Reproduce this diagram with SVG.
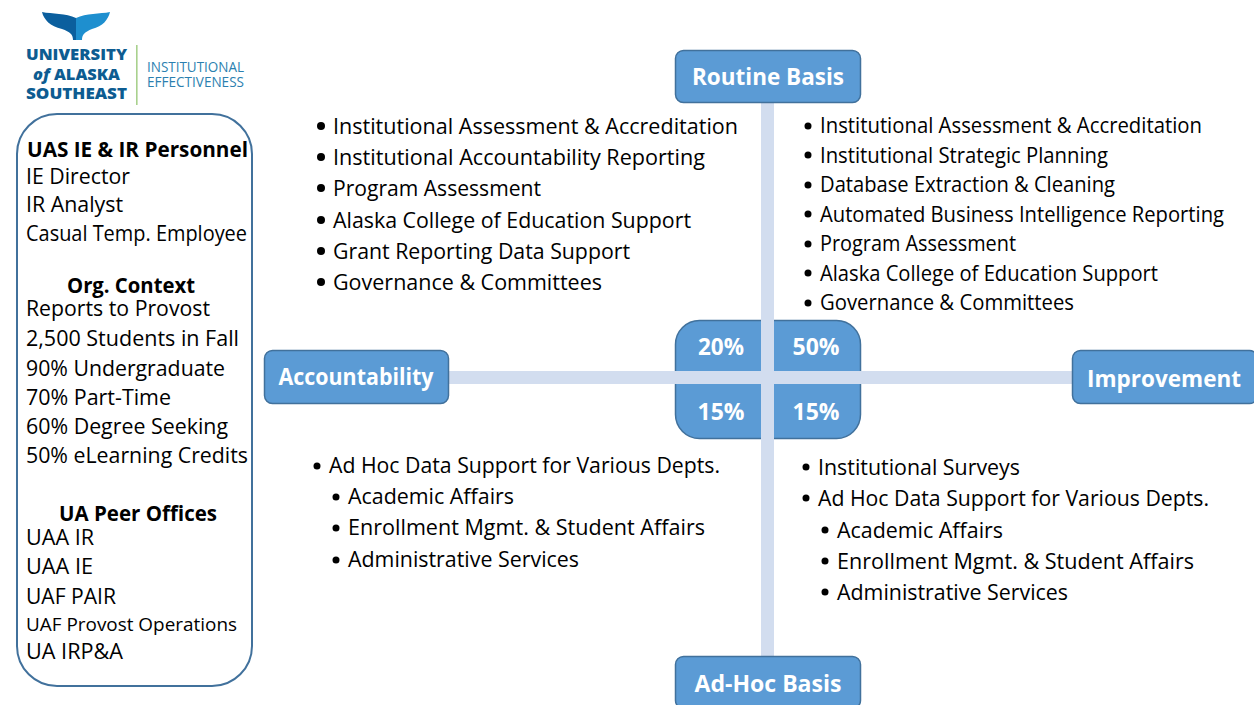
<svg xmlns="http://www.w3.org/2000/svg" width="1254" height="705" viewBox="0 0 1254 705">
<style>
text{font-family:"Open Sans","Noto Sans",sans-serif;fill:#000}
.b{fill:#5b9bd5;stroke:#41719c;stroke-width:1.5}
.bar{fill:#d2ddef}
.h{font-weight:700;fill:#fff;font-size:23px;text-anchor:middle}
.p{font-size:24px}
.l{font-size:22px}
.m{font-size:21px}
.t{font-weight:700;font-size:22px}
.logo{font-weight:800;fill:#0d5c91;font-size:16px}
.ie{fill:#2b7fb0;font-size:14px}
</style>
<g id="logo">
<path d="M42 12C52 14 66 13 76 18L76 40L73 40C73 34 70 32 62 29C50 26 44 20 42 12Z" fill="#0b5f9e"/>
<path d="M110 12C100 14 86 13 76 18L76 40L82 40C82 34 85 32 92 29C103 26 108 20 110 12Z" fill="#1e8fcf"/>
<rect x="136" y="45" width="1.6" height="60" fill="#a9d18e"/>
<text class="logo" x="26" y="60" textLength="101" lengthAdjust="spacingAndGlyphs">UNIVERSITY</text>
<text class="logo" x="33" y="80" textLength="87" lengthAdjust="spacingAndGlyphs"><tspan font-style="italic">of</tspan> ALASKA</text>
<text class="logo" x="26" y="99" textLength="101" lengthAdjust="spacingAndGlyphs">SOUTHEAST</text>
<text class="ie" x="147" y="72" textLength="97" lengthAdjust="spacingAndGlyphs">INSTITUTIONAL</text>
<text class="ie" x="147" y="87" textLength="97" lengthAdjust="spacingAndGlyphs">EFFECTIVENESS</text>
</g>
<g id="sidebar">
<rect x="17" y="114" width="235" height="572" rx="40" ry="40" fill="#fff" stroke="#41719c" stroke-width="2"/>
<text class="t" x="27" y="157" textLength="221" lengthAdjust="spacingAndGlyphs">UAS IE &amp; IR Personnel</text>
<text class="l" x="26" y="184" textLength="104" lengthAdjust="spacingAndGlyphs">IE Director</text>
<text class="l" x="26" y="212" textLength="97" lengthAdjust="spacingAndGlyphs">IR Analyst</text>
<text class="m" x="26" y="241" textLength="221" lengthAdjust="spacingAndGlyphs">Casual Temp. Employee</text>
<text class="t" x="67" y="293" textLength="128" lengthAdjust="spacingAndGlyphs">Org. Context</text>
<text class="l" x="26" y="316" textLength="184" lengthAdjust="spacingAndGlyphs">Reports to Provost</text>
<text class="l" x="26" y="346" textLength="213" lengthAdjust="spacingAndGlyphs">2,500 Students in Fall</text>
<text class="l" x="26" y="376" textLength="199" lengthAdjust="spacingAndGlyphs">90% Undergraduate</text>
<text class="l" x="26" y="405" textLength="145" lengthAdjust="spacingAndGlyphs">70% Part-Time</text>
<text class="l" x="26" y="434" textLength="202" lengthAdjust="spacingAndGlyphs">60% Degree Seeking</text>
<text class="l" x="26" y="463" textLength="222" lengthAdjust="spacingAndGlyphs">50% eLearning Credits</text>
<text class="t" x="59" y="521" textLength="158" lengthAdjust="spacingAndGlyphs">UA Peer Offices</text>
<text class="l" x="26" y="545" textLength="68" lengthAdjust="spacingAndGlyphs">UAA IR</text>
<text class="l" x="26" y="574" textLength="67" lengthAdjust="spacingAndGlyphs">UAA IE</text>
<text class="l" x="26" y="604" textLength="90" lengthAdjust="spacingAndGlyphs">UAF PAIR</text>
<text x="26" y="631" font-size="19" textLength="211" lengthAdjust="spacingAndGlyphs">UAF Provost Operations</text>
<text class="l" x="26" y="659" textLength="97" lengthAdjust="spacingAndGlyphs">UA IRP&amp;A</text>
</g>
<g id="center">
<rect class="b" x="675.500" y="320.500" width="185" height="118" rx="24" ry="24"/>
<text class="h p" x="721" y="355" textLength="46" lengthAdjust="spacingAndGlyphs">20%</text>
<text class="h p" x="816" y="355" textLength="47" lengthAdjust="spacingAndGlyphs">50%</text>
<text class="h p" x="721" y="420" textLength="47" lengthAdjust="spacingAndGlyphs">15%</text>
<text class="h p" x="816" y="420" textLength="47" lengthAdjust="spacingAndGlyphs">15%</text>
</g>
<g id="connectors">
<rect class="bar" x="761" y="100" width="13" height="560"/>
<rect class="bar" x="446" y="371" width="628" height="13"/>
</g>
<g id="routine"><rect class="b" x="675.500" y="50.500" width="185" height="52" rx="8" ry="8"/><text class="h" x="768" y="85" textLength="152" lengthAdjust="spacingAndGlyphs">Routine Basis</text></g>
<g id="adhoc"><rect class="b" x="675.500" y="656.500" width="185" height="52" rx="8" ry="8"/><text class="h" x="768" y="692" textLength="147" lengthAdjust="spacingAndGlyphs">Ad-Hoc Basis</text></g>
<g id="accountability"><rect class="b" x="264.500" y="350.500" width="184" height="53" rx="8" ry="8"/><text class="h" x="356" y="385" textLength="155" lengthAdjust="spacingAndGlyphs">Accountability</text></g>
<g id="improvement"><rect class="b" x="1072.500" y="350.500" width="185" height="53" rx="8" ry="8"/><text class="h" x="1164" y="387" textLength="154" lengthAdjust="spacingAndGlyphs">Improvement</text></g>
<g id="q1">
<circle cx="321" cy="126" r="4"/><text class="l" x="333" y="134" textLength="405" lengthAdjust="spacingAndGlyphs">Institutional Assessment &amp; Accreditation</text>
<circle cx="321" cy="157" r="4"/><text class="l" x="333" y="165" textLength="372" lengthAdjust="spacingAndGlyphs">Institutional Accountability Reporting</text>
<circle cx="321" cy="188" r="4"/><text class="l" x="333" y="196" textLength="208" lengthAdjust="spacingAndGlyphs">Program Assessment</text>
<circle cx="321" cy="220" r="4"/><text class="l" x="333" y="228" textLength="358" lengthAdjust="spacingAndGlyphs">Alaska College of Education Support</text>
<circle cx="321" cy="251" r="4"/><text class="l" x="333" y="259" textLength="297" lengthAdjust="spacingAndGlyphs">Grant Reporting Data Support</text>
<circle cx="321" cy="282" r="4"/><text class="l" x="333" y="290" textLength="269" lengthAdjust="spacingAndGlyphs">Governance &amp; Committees</text>
</g>
<g id="q2">
<circle cx="808" cy="126" r="3.500"/><text class="m" x="820" y="133" textLength="382" lengthAdjust="spacingAndGlyphs">Institutional Assessment &amp; Accreditation</text>
<circle cx="808" cy="155" r="3.500"/><text class="m" x="820" y="163" textLength="288" lengthAdjust="spacingAndGlyphs">Institutional Strategic Planning</text>
<circle cx="808" cy="185" r="3.500"/><text class="m" x="820" y="192" textLength="295" lengthAdjust="spacingAndGlyphs">Database Extraction &amp; Cleaning</text>
<circle cx="808" cy="214" r="3.500"/><text class="m" x="820" y="222" textLength="404" lengthAdjust="spacingAndGlyphs">Automated Business Intelligence Reporting</text>
<circle cx="808" cy="244" r="3.500"/><text class="m" x="820" y="251" textLength="196" lengthAdjust="spacingAndGlyphs">Program Assessment</text>
<circle cx="808" cy="273" r="3.500"/><text class="m" x="820" y="281" textLength="338" lengthAdjust="spacingAndGlyphs">Alaska College of Education Support</text>
<circle cx="808" cy="303" r="3.500"/><text class="m" x="820" y="310" textLength="254" lengthAdjust="spacingAndGlyphs">Governance &amp; Committees</text>
</g>
<g id="q3">
<circle cx="317" cy="466" r="3.500"/><text class="m" x="329" y="473" textLength="391" lengthAdjust="spacingAndGlyphs">Ad Hoc Data Support for Various Depts.</text>
<circle cx="336" cy="497" r="3.500"/><text class="m" x="348" y="504" textLength="166" lengthAdjust="spacingAndGlyphs">Academic Affairs</text>
<circle cx="336" cy="528" r="3.500"/><text class="m" x="348" y="535" textLength="357" lengthAdjust="spacingAndGlyphs">Enrollment Mgmt. &amp; Student Affairs</text>
<circle cx="336" cy="560" r="3.500"/><text class="m" x="348" y="567" textLength="231" lengthAdjust="spacingAndGlyphs">Administrative Services</text>
</g>
<g id="q4">
<circle cx="806" cy="467" r="3.500"/><text class="m" x="818" y="475" textLength="202" lengthAdjust="spacingAndGlyphs">Institutional Surveys</text>
<circle cx="806" cy="498" r="3.500"/><text class="m" x="818" y="506" textLength="391" lengthAdjust="spacingAndGlyphs">Ad Hoc Data Support for Various Depts.</text>
<circle cx="825" cy="530" r="3.500"/><text class="m" x="837" y="538" textLength="166" lengthAdjust="spacingAndGlyphs">Academic Affairs</text>
<circle cx="825" cy="561" r="3.500"/><text class="m" x="837" y="569" textLength="357" lengthAdjust="spacingAndGlyphs">Enrollment Mgmt. &amp; Student Affairs</text>
<circle cx="825" cy="592" r="3.500"/><text class="m" x="837" y="600" textLength="231" lengthAdjust="spacingAndGlyphs">Administrative Services</text>
</g>
</svg>
